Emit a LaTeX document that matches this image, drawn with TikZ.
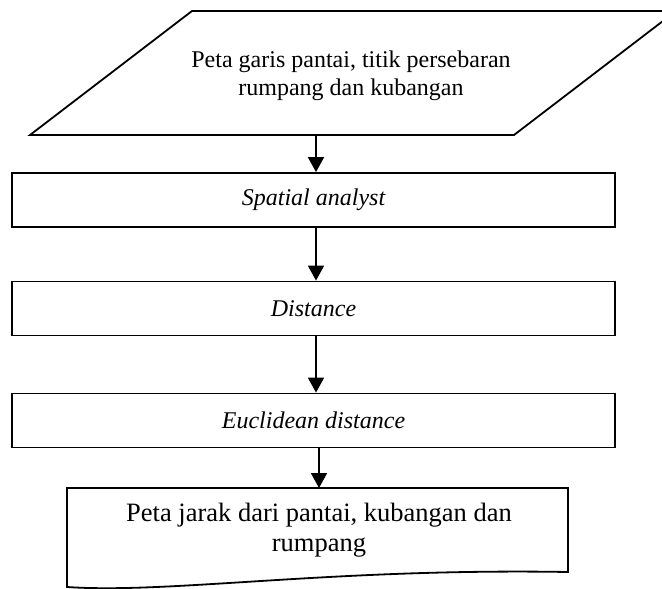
\documentclass[tikz,border=0pt]{standalone}
\usepackage{fontspec}
\setmainfont{Liberation Serif}
\usetikzlibrary{arrows.meta}

\begin{document}
\begin{tikzpicture}[
  x=1pt, y=-1pt,
  box/.style={rectangle, draw, line width=1.8pt, minimum width=603pt,
              minimum height=54pt, inner sep=0pt,
              font=\fontsize{24}{27}\selectfont\itshape},
  txt/.style={align=center, inner sep=0pt},
  arrow/.style={-{Triangle[length=15pt,width=16pt]}, line width=1.8pt}
]
\useasboundingbox (0,0) rectangle (662,589);

% data input
\draw[line width=1.8pt] (30,135) -- (192,11) -- (676,11) -- (514,135) -- cycle;
\node[txt, font=\fontsize{24}{27.5}\selectfont] (input) at (351,76)
  {Peta garis pantai, titik persebaran\\rumpang dan kubangan};
\coordinate (inbot) at (316,135);

% process steps
\node[box] (spatial) at (313.5,200) {Spatial analyst};
\node[box] (dist) at (313.5,308.5) {Distance};
\node[box] (euclid) at (313.5,420.5) {Euclidean distance};

% output document
\draw[line width=1.8pt] (67,488) -- (568,488) -- (568,572)
  .. controls (330,568) and (170,594) .. (67,587) -- cycle;
\node[txt, font=\fontsize{26.5}{30}\selectfont] (output) at (319,530)
  {Peta jarak dari pantai, kubangan dan\\rumpang};
\coordinate (outtop) at (319,488);

\draw[arrow] (inbot) -- (inbot |- spatial.north);
\draw[arrow] (inbot |- spatial.south) -- (inbot |- dist.north);
\draw[arrow] (inbot |- dist.south) -- (inbot |- euclid.north);
\draw[arrow] (outtop |- euclid.south) -- (outtop);
\end{tikzpicture}
\end{document}
